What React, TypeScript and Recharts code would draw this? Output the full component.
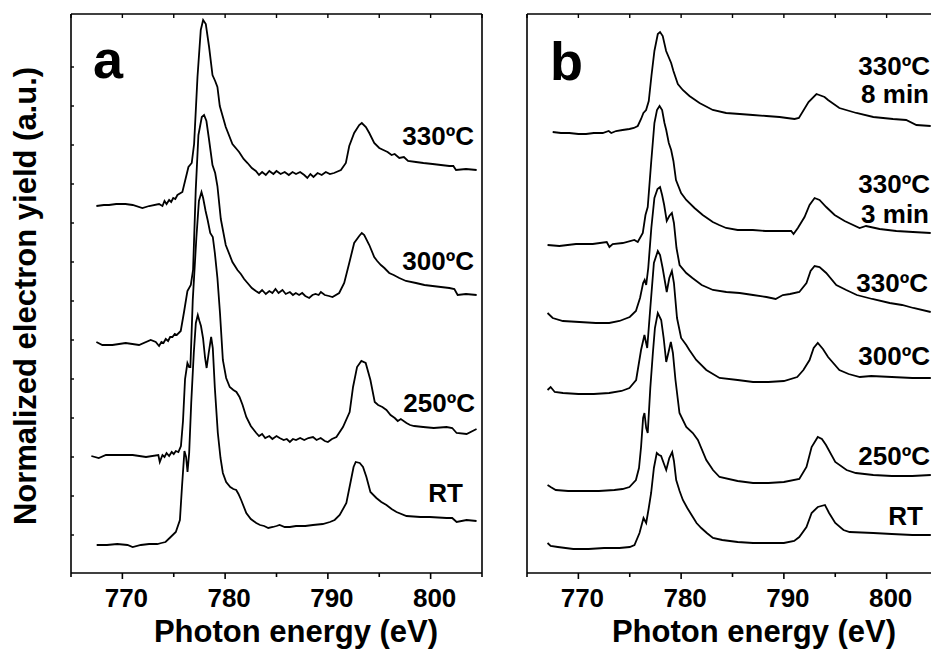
import { LineChart, Line, XAxis, YAxis } from "recharts";

// photon energy (eV), normalized yield (a.u., stacked as drawn)
const A_330: [number, number][] = [
  [767.47, 3.67], [768.2, 3.68], [768.7, 3.68], [769.4, 3.69], [770.3, 3.69], [771.0, 3.68], [771.95, 3.65],
  [772.6, 3.67], [773.57, 3.69], [773.9, 3.67], [774.1, 3.72], [774.3, 3.69], [774.55, 3.73], [774.75, 3.71],
  [774.95, 3.75], [775.15, 3.74], [775.36, 3.78], [775.84, 3.81], [776.17, 3.95], [776.43, 4.06], [776.75, 4.1],
  [776.98, 4.29], [777.31, 4.96], [777.63, 5.43], [777.86, 5.53], [778.12, 5.49], [778.44, 5.26], [778.77, 4.98],
  [779.03, 4.92], [779.25, 4.86], [779.48, 4.67], [780.06, 4.46], [780.71, 4.29], [781.36, 4.21], [781.8, 4.14],
  [782.18, 4.1], [782.6, 4.05], [782.99, 4.02], [783.3, 3.98], [783.6, 4.01], [783.96, 3.98], [784.3, 4.02],
  [784.7, 3.99], [785.0, 4.02], [785.4, 3.99], [785.8, 4.01], [786.2, 3.98], [786.56, 4.01], [786.9, 3.99],
  [787.3, 4.01], [787.7, 3.98], [788.0, 3.95], [788.3, 3.99], [788.6, 3.96], [789.0, 4.0], [789.4, 3.98],
  [789.8, 4.01], [790.2, 3.99], [790.6, 4.0], [791.27, 4.03], [791.75, 4.1], [792.08, 4.27], [792.56, 4.4],
  [793.05, 4.48], [793.3, 4.5], [793.7, 4.46], [794.03, 4.4], [794.51, 4.3], [795.0, 4.25], [795.4, 4.23],
  [795.81, 4.21], [796.2, 4.18], [796.5, 4.19], [796.95, 4.15], [797.4, 4.16], [797.8, 4.12], [798.57, 4.11],
  [799.3, 4.1], [800.19, 4.09], [801.0, 4.08], [801.82, 4.07], [802.21, 4.07], [802.47, 4.03], [803.44, 4.04],
  [804.48, 4.03],
];
const A_300: [number, number][] = [
  [767.47, 2.31], [768.05, 2.28], [769.03, 2.28], [770.32, 2.3], [771.62, 2.28], [772.76, 2.33], [773.25, 2.31],
  [773.57, 2.27], [773.8, 2.31], [774.0, 2.3], [774.22, 2.34], [774.45, 2.32], [774.65, 2.36], [774.87, 2.36],
  [775.1, 2.39], [775.3, 2.38], [775.68, 2.42], [776.0, 2.61], [776.33, 2.82], [776.66, 2.88], [776.88, 3.03],
  [777.14, 3.83], [777.4, 4.38], [777.73, 4.56], [777.95, 4.58], [778.18, 4.52], [778.44, 4.33], [778.77, 4.08],
  [779.03, 4.0], [779.25, 3.87], [779.58, 3.54], [780.06, 3.28], [780.71, 3.11], [781.2, 3.03], [781.53, 2.99],
  [781.85, 2.94], [782.18, 2.9], [782.6, 2.85], [782.99, 2.82], [783.3, 2.8], [783.6, 2.83], [783.96, 2.79],
  [784.3, 2.82], [784.6, 2.8], [784.9, 2.84], [785.2, 2.8], [785.58, 2.83], [785.9, 2.79], [786.3, 2.81],
  [786.6, 2.78], [786.88, 2.8], [787.2, 2.78], [787.5, 2.8], [787.8, 2.77], [788.18, 2.75], [788.5, 2.78],
  [788.8, 2.79], [789.1, 2.78], [789.32, 2.81], [789.7, 2.78], [790.1, 2.77], [790.45, 2.76], [791.1, 2.8],
  [791.59, 2.9], [792.08, 3.1], [792.56, 3.3], [793.05, 3.37], [793.3, 3.4], [793.54, 3.38], [794.03, 3.28],
  [794.51, 3.16], [794.8, 3.12], [795.16, 3.08], [795.5, 3.05], [795.97, 3.0], [796.4, 2.98], [796.95, 2.95],
  [797.6, 2.92], [798.57, 2.9], [799.4, 2.88], [800.19, 2.87], [801.0, 2.86], [801.82, 2.85], [802.31, 2.84],
  [802.63, 2.78], [803.44, 2.79], [804.48, 2.78],
];
const A_250: [number, number][] = [
  [766.98, 1.17], [767.7, 1.15], [768.4, 1.18], [769.7, 1.18], [771.0, 1.18], [772.3, 1.16], [773.5, 1.18],
  [773.64, 1.11], [773.9, 1.18], [774.1, 1.16], [774.3, 1.2], [774.55, 1.17], [774.8, 1.21], [775.0, 1.19],
  [775.2, 1.22], [775.45, 1.21], [775.7, 1.27], [775.9, 1.52], [776.1, 1.94], [776.33, 2.1], [776.5, 2.06],
  [776.62, 2.06], [776.85, 2.73], [777.2, 3.35], [777.45, 3.72], [777.7, 3.81], [777.86, 3.75], [778.1, 3.62],
  [778.3, 3.53], [778.55, 3.4], [778.8, 3.36], [779.0, 3.2], [779.25, 2.95], [779.5, 2.6], [779.78, 2.13],
  [780.1, 1.95], [780.45, 1.86], [780.8, 1.83], [781.1, 1.81], [781.4, 1.76], [781.7, 1.68], [782.06, 1.56],
  [782.5, 1.47], [782.8, 1.43], [783.03, 1.4], [783.3, 1.37], [783.6, 1.39], [783.9, 1.35], [784.3, 1.37],
  [784.6, 1.34], [785.0, 1.37], [785.3, 1.35], [785.7, 1.33], [786.0, 1.34], [786.3, 1.31], [786.6, 1.34],
  [786.9, 1.33], [787.3, 1.35], [787.7, 1.33], [788.1, 1.35], [788.55, 1.36], [788.9, 1.33], [789.3, 1.35],
  [789.7, 1.32], [790.0, 1.31], [790.4, 1.34], [790.83, 1.36], [791.47, 1.46], [792.12, 1.61], [792.45, 1.86],
  [792.84, 2.06], [793.26, 2.12], [793.68, 2.1], [794.14, 1.93], [794.56, 1.71], [794.89, 1.68], [795.3, 1.66],
  [795.7, 1.63], [796.1, 1.58], [796.51, 1.55], [796.8, 1.52], [797.1, 1.54], [797.65, 1.5], [798.0, 1.48],
  [798.4, 1.47], [799.27, 1.46], [800.3, 1.45], [801.55, 1.46], [802.1, 1.45], [802.53, 1.4], [803.5, 1.39],
  [804.47, 1.44],
];
const A_RT: [number, number][] = [
  [767.5, 0.28], [768.5, 0.28], [769.5, 0.29], [770.5, 0.28], [771.0, 0.26], [771.8, 0.28], [772.6, 0.29],
  [773.4, 0.29], [773.8, 0.3], [774.2, 0.31], [774.6, 0.35], [775.2, 0.41], [775.6, 0.53], [775.8, 0.86],
  [776.04, 1.22], [776.2, 1.16], [776.34, 1.01], [776.5, 1.2], [776.7, 1.7], [776.95, 2.2], [777.15, 2.5],
  [777.34, 2.58], [777.5, 2.52], [777.65, 2.47], [777.85, 2.35], [778.05, 2.15], [778.2, 2.05], [778.4, 2.2],
  [778.64, 2.36], [778.8, 2.25], [779.0, 1.85], [779.29, 1.4], [779.55, 1.15], [779.78, 1.0], [780.1, 0.91],
  [780.5, 0.86], [780.8, 0.84], [781.08, 0.83], [781.3, 0.79], [781.56, 0.73], [782.06, 0.6], [782.5, 0.54],
  [783.03, 0.5], [783.4, 0.48], [783.8, 0.47], [784.2, 0.45], [784.65, 0.46], [785.0, 0.47], [785.3, 0.48],
  [785.8, 0.46], [786.3, 0.46], [786.9, 0.47], [787.8, 0.47], [788.55, 0.48], [789.5, 0.49], [790.2, 0.51],
  [790.66, 0.53], [791.15, 0.58], [791.8, 0.7], [792.19, 0.9], [792.5, 1.06], [792.71, 1.11], [793.1, 1.1],
  [793.42, 1.06], [793.75, 0.96], [794.14, 0.81], [794.72, 0.75], [795.2, 0.71], [795.7, 0.68], [796.2, 0.64],
  [796.68, 0.61], [797.65, 0.57], [799.0, 0.56], [799.92, 0.56], [801.55, 0.55], [802.1, 0.55], [802.53, 0.51],
  [803.5, 0.53], [804.47, 0.52],
];

const B_8MIN: [number, number][] = [
  [767.5, 4.41], [768.3, 4.4], [769.12, 4.4], [770.0, 4.39], [770.75, 4.39], [771.5, 4.4], [772.37, 4.4],
  [772.95, 4.42], [773.2, 4.4], [773.67, 4.42], [774.3, 4.43], [774.97, 4.44], [775.4, 4.45], [775.78, 4.47],
  [776.1, 4.54], [776.33, 4.6], [776.59, 4.63], [776.85, 4.72], [777.11, 4.97], [777.4, 5.22], [777.73, 5.39],
  [777.95, 5.41], [778.21, 5.37], [778.54, 5.22], [779.03, 5.1], [779.25, 5.02], [779.68, 4.89], [780.16, 4.83],
  [780.81, 4.77], [781.79, 4.7], [783.08, 4.63], [784.38, 4.6], [785.7, 4.59], [786.98, 4.58], [788.3, 4.57],
  [789.58, 4.56], [790.3, 4.55], [791.04, 4.54], [791.46, 4.55], [792.4, 4.71], [793.17, 4.79], [793.96, 4.76],
  [794.3, 4.73], [795.4, 4.65], [797.05, 4.6], [798.7, 4.56], [800.62, 4.54], [801.9, 4.53], [802.9, 4.48],
  [804.29, 4.47],
];
const B_3MIN: [number, number][] = [
  [767.0, 3.28], [768.15, 3.27], [769.77, 3.29], [771.4, 3.29], [772.76, 3.31], [773.02, 3.26], [773.34, 3.29],
  [774.32, 3.3], [775.45, 3.33], [775.78, 3.31], [776.27, 3.4], [776.53, 3.58], [776.75, 3.66], [777.08, 4.1],
  [777.4, 4.5], [777.65, 4.63], [777.9, 4.67], [778.15, 4.63], [778.38, 4.5], [778.55, 4.43], [778.8, 4.3],
  [779.03, 4.23], [779.25, 4.12], [779.5, 3.93], [780.0, 3.8], [780.5, 3.73], [781.3, 3.65], [782.1, 3.58],
  [783.08, 3.51], [783.7, 3.48], [784.38, 3.45], [785.5, 3.43], [786.98, 3.43], [788.2, 3.42], [789.58, 3.42],
  [790.71, 3.42], [790.94, 3.39], [791.36, 3.45], [792.01, 3.56], [792.5, 3.68], [792.99, 3.75], [793.47, 3.73],
  [794.12, 3.66], [794.94, 3.58], [795.91, 3.52], [797.37, 3.45], [798.0, 3.47], [799.32, 3.44], [800.94, 3.42],
  [802.56, 3.41], [804.29, 3.4],
];
const B_330: [number, number][] = [
  [767.0, 2.6], [767.5, 2.55], [768.5, 2.52], [770.1, 2.51], [771.7, 2.5], [773.0, 2.5], [774.0, 2.52],
  [775.0, 2.56], [775.6, 2.62], [776.0, 2.75], [776.3, 2.9], [776.45, 2.93], [776.6, 2.88], [776.8, 3.05],
  [777.1, 3.45], [777.4, 3.75], [777.7, 3.84], [777.95, 3.86], [778.15, 3.78], [778.35, 3.68], [778.6, 3.52],
  [778.85, 3.57], [779.1, 3.6], [779.3, 3.5], [779.55, 3.25], [779.85, 3.08], [780.5, 3.0], [781.1, 2.95],
  [782.0, 2.88], [783.1, 2.83], [784.4, 2.81], [785.7, 2.8], [787.0, 2.78], [788.3, 2.76], [789.2, 2.74],
  [789.9, 2.78], [790.6, 2.79], [791.5, 2.81], [792.2, 2.9], [792.6, 3.02], [792.99, 3.07], [793.47, 3.06],
  [794.12, 3.0], [795.1, 2.88], [796.07, 2.83], [797.1, 2.78], [798.6, 2.74], [800.3, 2.7], [801.5, 2.68],
  [802.6, 2.65], [804.29, 2.61],
];
const B_300: [number, number][] = [
  [767.0, 1.83], [767.3, 1.86], [767.7, 1.81], [768.5, 1.8], [770.0, 1.79], [771.5, 1.79], [773.0, 1.8],
  [774.2, 1.82], [774.97, 1.85], [775.62, 1.93], [776.1, 2.23], [776.43, 2.38], [776.7, 2.25], [777.0, 2.65],
  [777.35, 3.1], [777.73, 3.22], [777.95, 3.18], [778.2, 3.05], [778.6, 2.81], [778.85, 2.95], [779.1, 3.02],
  [779.3, 2.9], [779.6, 2.55], [780.0, 2.35], [780.5, 2.28], [780.8, 2.23], [781.47, 2.13], [782.45, 2.03],
  [783.74, 1.95], [785.5, 1.93], [787.0, 1.91], [788.5, 1.91], [790.0, 1.92], [791.3, 1.96], [791.9, 2.03],
  [792.5, 2.13], [792.9, 2.25], [793.3, 2.3], [793.8, 2.24], [794.3, 2.16], [795.4, 2.03], [796.3, 1.99],
  [797.4, 1.96], [798.5, 1.97], [800.5, 1.96], [802.5, 1.95], [804.3, 1.95],
];
const B_250: [number, number][] = [
  [767.0, 0.88], [767.3, 0.86], [767.8, 0.83], [769.0, 0.82], [770.5, 0.82], [772.0, 0.82], [773.5, 0.83],
  [774.3, 0.84], [774.97, 0.86], [775.6, 0.93], [775.9, 1.05], [776.1, 1.26], [776.3, 1.55], [776.43, 1.6],
  [776.6, 1.45], [776.75, 1.4], [777.0, 1.85], [777.25, 2.2], [777.45, 2.45], [777.73, 2.6], [778.06, 2.53],
  [778.3, 2.35], [778.55, 2.11], [778.8, 2.22], [779.0, 2.31], [779.2, 2.2], [779.45, 1.93], [779.84, 1.6],
  [780.5, 1.46], [781.14, 1.4], [781.63, 1.33], [782.45, 1.13], [783.1, 1.03], [783.74, 0.96], [785.5, 0.92],
  [787.0, 0.9], [788.5, 0.9], [790.0, 0.91], [791.5, 0.94], [792.2, 1.06], [792.7, 1.26], [793.3, 1.36],
  [793.7, 1.34], [794.1, 1.28], [795.0, 1.11], [796.1, 1.03], [797.0, 1.0], [798.7, 0.98], [800.5, 0.97],
  [802.5, 0.97], [804.3, 0.98],
];
const B_RT: [number, number][] = [
  [767.0, 0.3], [767.3, 0.27], [768.0, 0.26], [769.5, 0.24], [771.0, 0.24], [772.5, 0.25], [774.0, 0.25],
  [775.0, 0.26], [775.46, 0.28], [775.95, 0.4], [776.34, 0.55], [776.6, 0.5], [776.85, 0.65], [777.08, 0.8],
  [777.35, 1.05], [777.63, 1.2], [777.85, 1.18], [778.05, 1.17], [778.3, 1.1], [778.55, 1.03], [778.85, 1.15],
  [779.13, 1.21], [779.3, 1.12], [779.52, 0.93], [779.85, 0.82], [780.17, 0.73], [780.6, 0.65], [781.14, 0.56],
  [781.5, 0.5], [781.96, 0.45], [782.5, 0.4], [783.1, 0.35], [784.0, 0.33], [785.5, 0.31], [787.0, 0.3],
  [788.5, 0.3], [790.0, 0.3], [791.0, 0.32], [791.5, 0.36], [792.2, 0.46], [792.7, 0.6], [793.3, 0.66],
  [794.0, 0.68], [794.4, 0.6], [795.0, 0.5], [795.8, 0.43], [796.4, 0.41], [798.7, 0.4], [800.5, 0.39],
  [802.5, 0.38], [804.3, 0.38],
];

const X_DOMAIN: [number, number] = [765, 805];
const Y_DOMAIN: [number, number] = [0, 5.59];
const X_TICKS = [765, 770, 775, 780, 785, 790, 795, 800, 805];
const X_MAJOR = [770, 780, 790, 800];
const Y_TICKS_A = [0.38, 0.77, 1.16, 1.55, 1.94, 2.33, 2.72, 3.11, 3.5, 3.89, 4.28, 4.67, 5.06];

const FONT = '"Liberation Sans", Arial, Helvetica, sans-serif';
const AXIS_LINE = { stroke: "#000", strokeWidth: 1.6 };

const toPts = (arr: [number, number][]) => arr.map(([e, v]) => ({ e, v }));

function BottomTick(props: any) {
  const { x, y, payload } = props;
  const major = X_MAJOR.includes(payload.value);
  return (
    <g>
      <line x1={x} x2={x} y1={y} y2={y + (major ? 6 : 4)} stroke="#000" strokeWidth={1.6} />
      {major && (
        <text x={x + 4} y={y + 34} textAnchor="middle" fontSize={26} fontWeight="bold" fontFamily={FONT} fill="#000">
          {payload.value}
        </text>
      )}
    </g>
  );
}

function TopTick(props: any) {
  const { x, y } = props;
  return <line x1={x} x2={x} y1={y} y2={y + 4} stroke="#000" strokeWidth={1.4} />;
}

function LeftTick(props: any) {
  const { x, y } = props;
  return <line x1={x} x2={x + 3} y1={y} y2={y} stroke="#000" strokeWidth={1.4} />;
}

function Panel({ series, yTicks, left }: { series: [number, number][][]; yTicks: number[]; left: number }) {
  const hasLeftTicks = yTicks.length > 0;
  return (
    <div style={{ position: "absolute", left, top: 0 }}>
      <LineChart width={500} height={656} margin={{ top: 13, right: 17, bottom: 82, left: 70 }}>
        <XAxis
          xAxisId="bottom" type="number" dataKey="e" domain={X_DOMAIN} allowDataOverflow ticks={X_TICKS}
          interval={0} height={1} tickSize={0} tickMargin={0} tickLine={false} axisLine={AXIS_LINE} tick={<BottomTick />}
        />
        <XAxis
          xAxisId="top" orientation="top" type="number" dataKey="e" domain={X_DOMAIN} allowDataOverflow ticks={X_TICKS}
          interval={0} height={1} tickSize={0} tickMargin={0} tickLine={false} axisLine={AXIS_LINE} tick={<TopTick />}
        />
        <YAxis
          yAxisId="left" type="number" domain={Y_DOMAIN} allowDataOverflow ticks={hasLeftTicks ? yTicks : [0]}
          interval={0} width={1} tickSize={0} tickMargin={0} tickLine={false} axisLine={AXIS_LINE}
          tick={hasLeftTicks ? <LeftTick /> : false}
        />
        <YAxis
          yAxisId="right" orientation="right" type="number" domain={Y_DOMAIN} allowDataOverflow width={1} ticks={[0]}
          tickLine={false} tick={false} axisLine={AXIS_LINE}
        />
        {series.map((s, i) => (
          <Line
            key={i} xAxisId="bottom" yAxisId="left" data={toPts(s)} dataKey="v" type="linear"
            stroke="#000" strokeWidth={1.8} dot={false} activeDot={false} isAnimationActive={false}
          />
        ))}
      </LineChart>
    </div>
  );
}

const txt = { fontFamily: FONT, fontWeight: "bold" as const, fill: "#000" };

export default function App() {
  return (
    <div style={{ position: "absolute", left: 0, top: 0, width: 931, height: 656, overflow: "hidden", background: "#fff" }}>
      <Panel series={[A_330, A_300, A_250, A_RT]} yTicks={Y_TICKS_A} left={0} />
      <Panel series={[B_8MIN, B_3MIN, B_330, B_300, B_250, B_RT]} yTicks={[]} left={456} />
      <svg width={931} height={656} style={{ position: "absolute", left: 0, top: 0, pointerEvents: "none" }}>
        <text x={93} y={78} fontSize={54} {...txt}>a</text>
        <text x={550} y={80} fontSize={54} {...txt}>b</text>

        <g fontSize={26} textAnchor="end" {...txt}>
          <text x={474} y={145}>330ºC</text>
          <text x={474} y={270}>300ºC</text>
          <text x={475} y={412}>250ºC</text>
          <text x={463} y={502}>RT</text>

          <text x={930} y={75}>330ºC</text>
          <text x={929} y={103}>8 min</text>
          <text x={930} y={193}>330ºC</text>
          <text x={929} y={223}>3 min</text>
          <text x={928} y={292}>330ºC</text>
          <text x={930} y={365}>300ºC</text>
          <text x={930} y={465}>250ºC</text>
          <text x={923} y={525}>RT</text>
        </g>

        <g fontSize={31} textAnchor="middle" {...txt}>
          <text x={296} y={642}>Photon energy (eV)</text>
          <text x={754} y={642}>Photon energy (eV)</text>
          <text x={36} y={296} transform="rotate(-90 36 296)">Normalized electron yield (a.u.)</text>
        </g>
      </svg>
    </div>
  );
}
